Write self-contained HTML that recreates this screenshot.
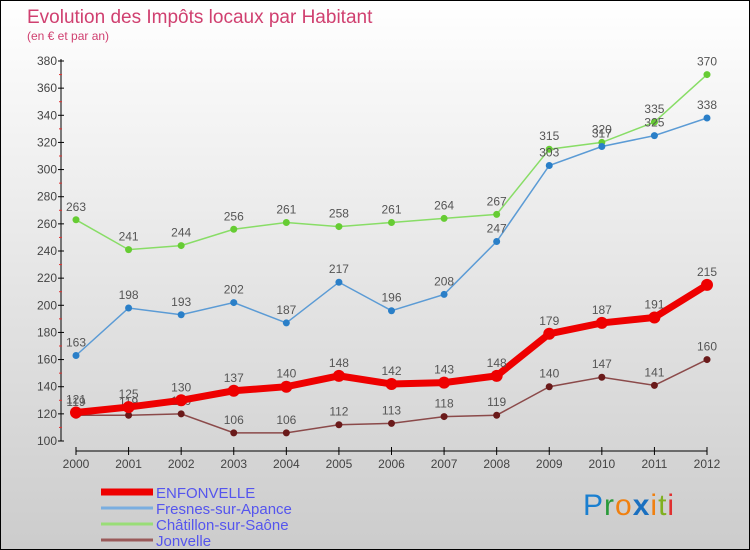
<!DOCTYPE html>
<html><head><meta charset="utf-8"><style>
body{margin:0}
#c{width:750px;height:550px;position:relative;box-sizing:border-box;border:1px solid #000;background:linear-gradient(#ffffff,#cccccc);font-family:"Liberation Sans",sans-serif;overflow:hidden}
</style></head><body>
<div id="c">
<svg id="s" width="750" height="550" style="position:absolute;left:0;top:0">
<text x="26" y="22" font-size="19" fill="#d04070">Evolution des Impôts locaux par Habitant</text>
<text x="26" y="39" font-size="12" fill="#d04070">(en € et par an)</text>
<g id="g"></g>
</svg>
<div style="position:absolute;left:582px;top:488px;font-size:30px;font-family:'Liberation Sans',sans-serif;letter-spacing:1px"><span style="color:#1a7fd0">P</span><span style="color:#2a9a3a">r</span><span style="color:#f08010">o</span><span style="color:#1a70c0;font-weight:bold">x</span><span style="color:#f08010">i</span><span style="color:#80b020">t</span><span style="color:#e03030">i</span></div>
</div>
<script>
const years=[2000,2001,2002,2003,2004,2005,2006,2007,2008,2009,2010,2011,2012];
const enfonvelle=[121,125,130,137,140,148,142,143,148,179,187,191,215];
const fresnes=[163,198,193,202,187,217,196,208,247,303,317,325,338];
const chatillon=[263,241,244,256,261,258,261,264,267,315,320,335,370];
const jonvelle=[119,119,120,106,106,112,113,118,119,140,147,141,160];
const yTicks=[100,120,140,160,180,200,220,240,260,280,300,320,340,360,380];
const NS="http://www.w3.org/2000/svg";
const g=document.getElementById('g');
const X=i=>75+i*(631/12);
const Y=v=>440-(v-100)*(380/280);
function mk(t,a){const e=document.createElementNS(NS,t);for(const k in a)e.setAttribute(k,a[k]);g.appendChild(e);return e;}
let ax=mk('line',{x1:60,y1:58,x2:60,y2:440,stroke:'#000','stroke-width':1});


yTicks.forEach(v=>{
 mk('line',{x1:57,y1:Y(v),x2:63,y2:Y(v),stroke:'#000'});
 mk('line',{x1:58,y1:Y(v+10),x2:61,y2:Y(v+10),stroke:'#e03030'}).style.display=v<380?'':'none';
 let t=mk('text',{x:56,y:Y(v)+4,'text-anchor':'end','font-size':12,fill:'#444'});t.textContent=v;
 
 
});
let xa=mk('line',{x1:75,y1:450,x2:706,y2:450,stroke:'#000'});


years.forEach((y,i)=>{
 mk('line',{x1:X(i),y1:446,x2:X(i),y2:454,stroke:'#000'});
 let t=mk('text',{x:X(i),y:467,'text-anchor':'middle','font-size':12,fill:'#444'});t.textContent=y;
 
 
});
function series(d,col,dot,w,r,name){
 let p=mk('polyline',{points:d.map((v,i)=>X(i)+','+Y(v)).join(' '),fill:'none',stroke:col,'stroke-width':w});
 
 
 d.forEach((v,i)=>{
  let c=mk('circle',{cx:X(i),cy:Y(v),r:r,fill:dot});
  
  
  let t=mk('text',{x:X(i),y:Y(v)-9,'text-anchor':'middle','font-size':12,fill:'#555'});t.textContent=v;
  
  
 });
}
series(chatillon,'#88dd66','#66cc33',1.5,3.5,'chatillon');
series(fresnes,'#5b9bd5','#2a7fc8',1.5,3.5,'fresnes');
series(jonvelle,'#8b4a4a','#6a1a1a',1.5,3.5,'jonvelle');
series(enfonvelle,'#ee0000','#ee0000',7,6,'enfonvelle');
const leg=[['ENFONVELLE','#ee0000',7],['Fresnes-sur-Apance','#7aaee0',3],['Châtillon-sur-Saône','#99dd77',3],['Jonvelle','#9a5a5a',3]];
leg.forEach((l,i)=>{
 const y=491+i*16;
 mk('line',{x1:100,y1:y,x2:152,y2:y,stroke:l[1],'stroke-width':l[2]});
 let t=mk('text',{x:155,y:y+6,'font-size':15,fill:'#5555ee'});t.textContent=l[0];
 
 
});
</script>
</body></html>
